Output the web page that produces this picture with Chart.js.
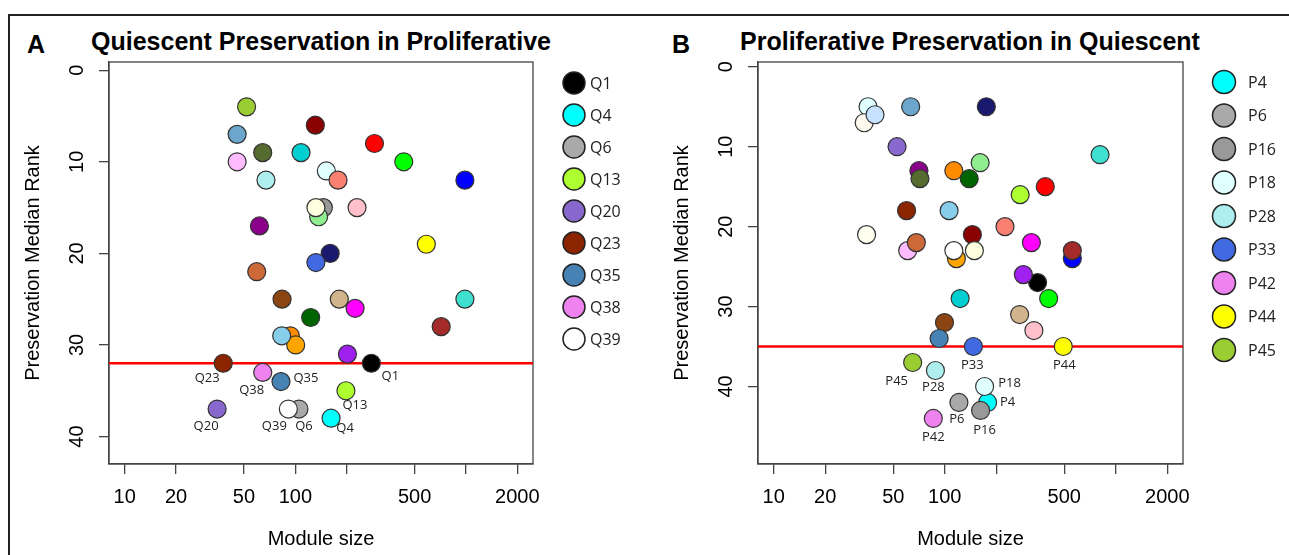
<!DOCTYPE html>
<html>
<head>
<meta charset="utf-8">
<script src="https://cdn.jsdelivr.net/npm/chart.js@4.4.1/dist/chart.umd.min.js"></script>
<style>
  body { margin: 0; background: #fff; width: 1289px; height: 555px; overflow: hidden; position: relative;
         font-family: "Liberation Sans", Arial, sans-serif; }
  .frame { position: absolute; left: 8px; top: 14px; width: 1300px; height: 600px;
           border-top: 2px solid #222; border-left: 2px solid #222; }
  .letter, .title { position: absolute; font-weight: bold; font-size: 25px; line-height: 25px; color: #000; white-space: nowrap; }
  .title { transform: translateX(-50%); }
  canvas { position: absolute; top: 0; }
</style>
</head>
<body>
<div class="frame"></div>
<div class="letter" style="left:27px;top:32px">A</div>
<div class="title" style="left:321px;top:29px">Quiescent Preservation in Proliferative</div>
<div class="letter" style="left:672px;top:32px">B</div>
<div class="title" style="left:970px;top:29px">Proliferative Preservation in Quiescent</div>
<canvas id="chartA" width="645" height="555" style="left:0"></canvas>
<canvas id="chartB" width="640" height="555" style="left:649px"></canvas>
<script>
// shared axes
const sizeTicks = [10, 20, 50, 100, 200, 500, 1000, 2000];
const sizeTickLabels = ['10', '20', '50', '100', '', '500', '', '2000'];
const rankTicks = [0, 10, 20, 30, 40];

// Panel A: quiescent modules in the proliferative network
const qSize = [51.8, 45.6, 131, 291, 45.6, 64.4, 108, 432, 986, 67.3, 152, 178, 146, 137, 132, 230, 61.6, 586, 160, 132,
  59.4, 83.6, 181, 224, 123, 986, 716, 93.5, 100.5, 83.2, 202, 37.8, 279, 64.4, 82.4, 198, 34.8, 105, 91, 162];
const qRank = [4, 7, 6, 8, 10, 9, 9, 10, 12, 12, 11, 12, 15, 16, 15, 15, 17, 19, 20, 21,
  22, 25, 25, 26, 27, 25, 28, 29, 30, 29, 31, 32, 32, 33, 34, 35, 37, 37, 37, 38];
const qName = ['', '', '', '', '', '', '', '', '', '', '', '', '', '', '', '', '', '', '', '',
  '', '', '', '', '', '', '', '', '', '', '', 'Q23', 'Q1', 'Q38', 'Q35', 'Q13', 'Q20', 'Q6', 'Q39', 'Q4'];
const qLegend = ['Q1', 'Q4', 'Q6', 'Q13', 'Q20', 'Q23', 'Q35', 'Q38', 'Q39'];
const qCutoff = 32;

// Panel B: proliferative modules in the quiescent network
const pSize = [35.6, 33.8, 39.1, 63.2, 175, 52.6, 809, 70.6, 71.6, 161, 113, 139, 276, 387, 59.8, 106, 34.9, 225, 145, 321,
  60.7, 68.2, 117, 113, 149, 557, 557, 349, 288, 405, 123, 274, 332, 99.6, 92.7, 147, 493, 64.9, 88.2, 178, 171, 121, 162, 85.7];
const pRank = [5, 7, 6, 5, 5, 10, 11, 13, 14, 12, 13, 14, 16, 15, 18, 18, 21, 20, 21, 22,
  23, 22, 24, 23, 23, 24, 23, 27, 26, 29, 29, 31, 33, 32, 34, 35, 35, 37, 38, 42, 40, 42, 43, 44];
const pName = ['', '', '', '', '', '', '', '', '', '', '', '', '', '', '', '', '', '', '', '',
  '', '', '', '', '', '', '', '', '', '', '', '', '', '', '', 'P33', 'P44', 'P45', 'P28', 'P4', 'P18', 'P6', 'P16', 'P42'];
const pLegend = ['P4', 'P6', 'P16', 'P18', 'P28', 'P33', 'P42', 'P44', 'P45'];
const pCutoff = 35;

// module colours (styles, same order as the points)
const qColor = ['#9ACD32', '#6CA6CD', '#8B0000', '#FF0000', '#FFBBFF', '#556B2F', '#00CED1', '#00FF00', '#0000FF', '#AFEEEE',
  '#E0FFFF', '#FA8072', '#999999', '#90EE90', '#FFFFE0', '#FFC0CB', '#8B008B', '#FFFF00', '#191970', '#4169E1',
  '#CD6839', '#8B4513', '#D2B48C', '#FF00FF', '#006400', '#40E0D0', '#A52A2A', '#FF8C00', '#FFA500', '#87CEEB',
  '#A020F0', '#8B2500', '#000000', '#EE82EE', '#4682B4', '#ADFF2F', '#8968CD', '#A9A9A9', '#FFFFFF', '#00FFFF'];
const pColor = ['#E0FFFF', '#FFFAF0', '#C6E2FF', '#6CA6CD', '#191970', '#8968CD', '#40E0D0', '#8B008B', '#556B2F', '#90EE90',
  '#FF8C00', '#006400', '#ADFF2F', '#FF0000', '#8B2500', '#87CEEB', '#FFFFF0', '#FA8072', '#8B0000', '#FF00FF',
  '#FFBBFF', '#CD6839', '#FFA500', '#FFFFFF', '#FFFFE0', '#0000FF', '#A52A2A', '#000000', '#A020F0', '#00FF00',
  '#00CED1', '#D2B48C', '#FFC0CB', '#8B4513', '#4682B4', '#4169E1', '#FFFF00', '#9ACD32', '#AFEEEE', '#00FFFF',
  '#E0FFFF', '#A9A9A9', '#999999', '#EE82EE'];

// where each point label sits relative to its circle (px)
const qLabelOffset = { Q23: [-16, 15], Q38: [-11, 18], Q35: [25, -3], Q1: [19, 13], Q13: [9, 15],
  Q20: [-11, 17], Q39: [-14, 17], Q6: [5, 17], Q4: [14, 10] };
const pLabelOffset = { P33: [-1, 19], P44: [1, 19], P45: [-16, 19], P28: [-2, 17], P18: [25, -3],
  P4: [20, 0], P6: [-2, 17], P16: [4, 20], P42: [0, 19] };

Chart.defaults.font.family = '"Liberation Sans", Arial, sans-serif';
Chart.defaults.color = '#000';

// box, cut-off line, point labels and legend
const panelExtras = {
  id: 'panelExtras',
  beforeDatasetsDraw(chart, args, opts) {
    const { ctx, chartArea: a, scales: { y } } = chart;
    ctx.save();
    ctx.strokeStyle = '#444';
    ctx.lineWidth = 1.3;
    ctx.strokeRect(a.left, a.top, a.right - a.left, a.bottom - a.top);
    const yc = y.getPixelForValue(opts.cutoff);
    ctx.strokeStyle = '#FF0000';
    ctx.lineWidth = 2.4;
    ctx.beginPath();
    ctx.moveTo(a.left, yc);
    ctx.lineTo(a.right, yc);
    ctx.stroke();
    ctx.restore();
  },
  afterDraw(chart, args, opts) {
    const { ctx, chartArea: a, scales: { x, y } } = chart;
    ctx.save();
    ctx.font = '13px "Open Sans"';
    ctx.fillStyle = '#222';
    ctx.textAlign = 'center';
    ctx.textBaseline = 'middle';
    opts.names.forEach((n, i) => {
      if (!n) return;
      const [dx, dy] = opts.offsets[n];
      ctx.fillText(n, x.getPixelForValue(opts.sizes[i]) + dx, y.getPixelForValue(opts.ranks[i]) + dy);
    });

    ctx.font = '16px "Open Sans"';
    ctx.textAlign = 'left';
    opts.legend.forEach((n, k) => {
      const cx = a.right + 41;
      const cy = a.top + opts.legendTop + k * opts.legendStep;
      ctx.beginPath();
      ctx.arc(cx, cy, opts.legendR, 0, Math.PI * 2);
      ctx.fillStyle = opts.colors[opts.names.indexOf(n)];
      ctx.fill();
      ctx.lineWidth = 1.5;
      ctx.strokeStyle = '#222';
      ctx.stroke();
      ctx.fillStyle = '#222';
      ctx.fillText(n, cx + opts.legendGap, cy + 1);
    });
    ctx.restore();
  }
};

function makePanel(id, sizes, ranks, names, colors, extras, yMax, padRight) {
  const axisGrid = { display: true, drawOnChartArea: false, drawTicks: true, tickLength: 10, color: '#444', lineWidth: 1.3 };
  return new Chart(document.getElementById(id), {
    type: 'scatter',
    data: {
      datasets: [{
        data: sizes.map((s, i) => ({ x: s, y: ranks[i] })),
        backgroundColor: colors,
        borderColor: '#333',
        borderWidth: 1.2,
        pointRadius: 9,
        pointHoverRadius: 9
      }]
    },
    options: {
      responsive: false,
      animation: false,
      events: [],
      layout: { padding: { top: 62, right: padRight, left: 0, bottom: 0 } },
      plugins: {
        legend: { display: false },
        tooltip: { enabled: false },
        panelExtras: Object.assign({ sizes, ranks, names, colors }, extras)
      },
      scales: {
        x: {
          type: 'logarithmic',
          min: 8.09,
          max: 2472,
          afterBuildTicks: (s) => { s.ticks = sizeTicks.map((v) => ({ value: v })); },
          afterFit: (s) => { s.height = 91; },
          ticks: {
            autoSkip: false,
            maxRotation: 0,
            padding: 11,
            font: { size: 20 },
            callback: (v, i) => sizeTickLabels[i]
          },
          grid: axisGrid,
          border: { display: true, color: '#444', width: 1.3 },
          title: { display: true, text: 'Module size', font: { size: 20 }, padding: { top: 0, bottom: 4 } }
        },
        y: {
          type: 'linear',
          reverse: true,
          min: extras.yMin,
          max: yMax,
          afterBuildTicks: (s) => { s.ticks = rankTicks.map((v) => ({ value: v })); },
          afterFit: (s) => { s.width = 109; },
          ticks: {
            minRotation: 90,
            maxRotation: 90,
            crossAlign: 'center',
            padding: 10,
            font: { size: 20 }
          },
          grid: axisGrid,
          border: { display: true, color: '#444', width: 1.3 },
          title: { display: true, text: 'Preservation Median Rank', font: { size: 20 }, padding: { top: 21, bottom: 0 } }
        }
      }
    },
    plugins: [panelExtras]
  });
}

makePanel('chartA', qSize, qRank, qName, qColor,
  { cutoff: qCutoff, offsets: qLabelOffset, legend: qLegend, legendTop: 21, legendStep: 32, legendR: 11, legendGap: 16, yMin: -0.9 },
  43, 112);
makePanel('chartB', pSize, pRank, pName, pColor,
  { cutoff: pCutoff, offsets: pLabelOffset, legend: pLegend, legendTop: 20, legendStep: 33.5, legendR: 11.5, legendGap: 24, yMin: -0.6 },
  49.7, 106);
</script>
</body>
</html>
